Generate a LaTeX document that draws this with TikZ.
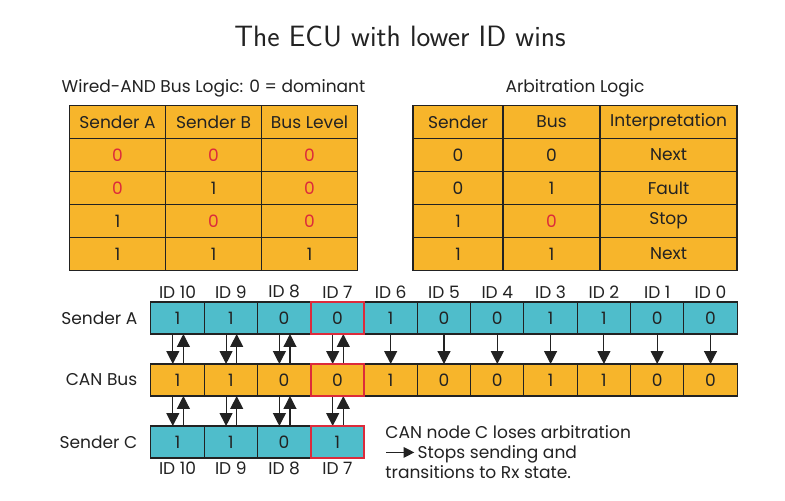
\documentclass[tikz,border=0pt]{standalone}
\usepackage{fontspec}
\setmainfont{Poppins}
\usepackage{xcolor}
\usepackage{tikz}
\usetikzlibrary{positioning,arrows.meta}

\definecolor{busorange}{HTML}{F7B52B}
\definecolor{framecyan}{HTML}{4FBDCB}
\definecolor{lossred}{HTML}{DC2B3B}
\definecolor{inkgray}{HTML}{222222}
\newcommand{\rz}{\textcolor{lossred}{0}}

\begin{document}
\begin{tikzpicture}[
    x=0.85pt,y=-0.85pt,
    every node/.style={text=inkgray,font=\fontsize{14.5}{17}\selectfont},
    tcell/.style={draw=inkgray,line width=1.2pt,fill=busorange,minimum height=28pt,inner sep=0pt,outer sep=0pt},
    bitcell/.style={draw=inkgray,line width=0.9pt,minimum width=45.3pt,minimum height=27.2pt,inner sep=0pt,outer sep=0pt},
    idlabel/.style={inner sep=1pt},
    lostframe/.style={draw=lossred,line width=2pt},
    link/.style={-{Triangle[width=11pt,length=11pt]},line width=1pt,draw=inkgray}
]
\useasboundingbox (0,0) rectangle (785,501);

\node (ttl) at (400,37) {\sffamily\fontsize{25}{30}\selectfont The ECU with lower ID wins};

% wired-AND table
\foreach \a/\b/\c [count=\r from 0] in {Sender A/Sender B/Bus Level,\rz/\rz/\rz,\rz/1/\rz,1/\rz/\rz,1/1/1} {
    \node[tcell,minimum width=81.6pt] (L\r-a) at (117.5,122+33*\r) {\a};
    \node[tcell,minimum width=81.6pt,right=0pt of L\r-a] (L\r-b) {\b};
    \node[tcell,minimum width=81.6pt,right=0pt of L\r-b] (L\r-c) {\c};
}
\node[above=4pt of L0-b] (andttl) {Wired-AND Bus Logic: 0 = dominant};

% arbitration table
\foreach \a/\b/\c [count=\r from 0] in {Sender/Bus/Interpretation,0/0/Next,0/1/Fault,1/\rz/Stop,1/1/Next} {
    \node[tcell,minimum width=76.5pt] (R\r-a) at (458,122+33*\r) {\a};
    \node[tcell,minimum width=82.5pt,right=0pt of R\r-a] (R\r-b) {\b};
    \node[tcell,minimum width=116.5pt,right=0pt of R\r-b] (R\r-c) {\c};
}
\node (arbttl) at (575,88) {Arbitration Logic};

% frames on the bus
\foreach \v [count=\i from 0] in {1,1,0,0,1,0,0,1,1,0,0} {
    \pgfmathtruncatemacro\id{10-\i}
    \node[bitcell,fill=framecyan] (A\i) at (177.5+53.3*\i,318) {\v};
    \node[bitcell,fill=busorange] (B\i) at (177.5+53.3*\i,380) {\v};
    \node[idlabel,above=2pt of A\i] (idA\i) {ID \id};
    \ifnum\i<4
        \draw[link] ([xshift=-4pt]A\i.south) -- ([xshift=-4pt]B\i.north);
        \draw[link] ([xshift=5pt]B\i.north) -- ([xshift=5pt]A\i.south);
    \else
        \draw[link] (A\i) -- (B\i);
    \fi
}
\foreach \v [count=\i from 0] in {1,1,0,1} {
    \pgfmathtruncatemacro\id{10-\i}
    \node[bitcell,fill=framecyan] (C\i) at (177.5+53.3*\i,442) {\v};
    \node[idlabel,below=2pt of C\i] (idC\i) {ID \id};
    \draw[link] ([xshift=-4pt]B\i.south) -- ([xshift=-4pt]C\i.north);
    \draw[link] ([xshift=5pt]C\i.north) -- ([xshift=5pt]B\i.south);
}

\node[left=8pt of A0] (senderA) {Sender A};
\node[left=8pt of B0] (canbus) {CAN Bus};
\node[left=8pt of C0] (senderC) {Sender C};

% lost bit
\draw[lostframe] (A3.north west) rectangle (A3.south east);
\draw[lostframe] (B3.north west) rectangle (B3.south east);
\draw[lostframe] (C3.north west) rectangle (C3.south east);

\node[anchor=north west,align=left,inner sep=0pt,font=\fontsize{14.5}{17}\selectfont] (lose) at ([xshift=18pt,yshift=1pt]C3.north east)
    {CAN node C loses arbitration\\
     \tikz[baseline=-0.6ex]\draw[-{Triangle[width=9pt,length=9pt]},line width=1pt,draw=inkgray,fill=inkgray] (0pt,0pt) -- (24pt,0pt);\,Stops sending and\\
     transitions to Rx state.};
\end{tikzpicture}
\end{document}
